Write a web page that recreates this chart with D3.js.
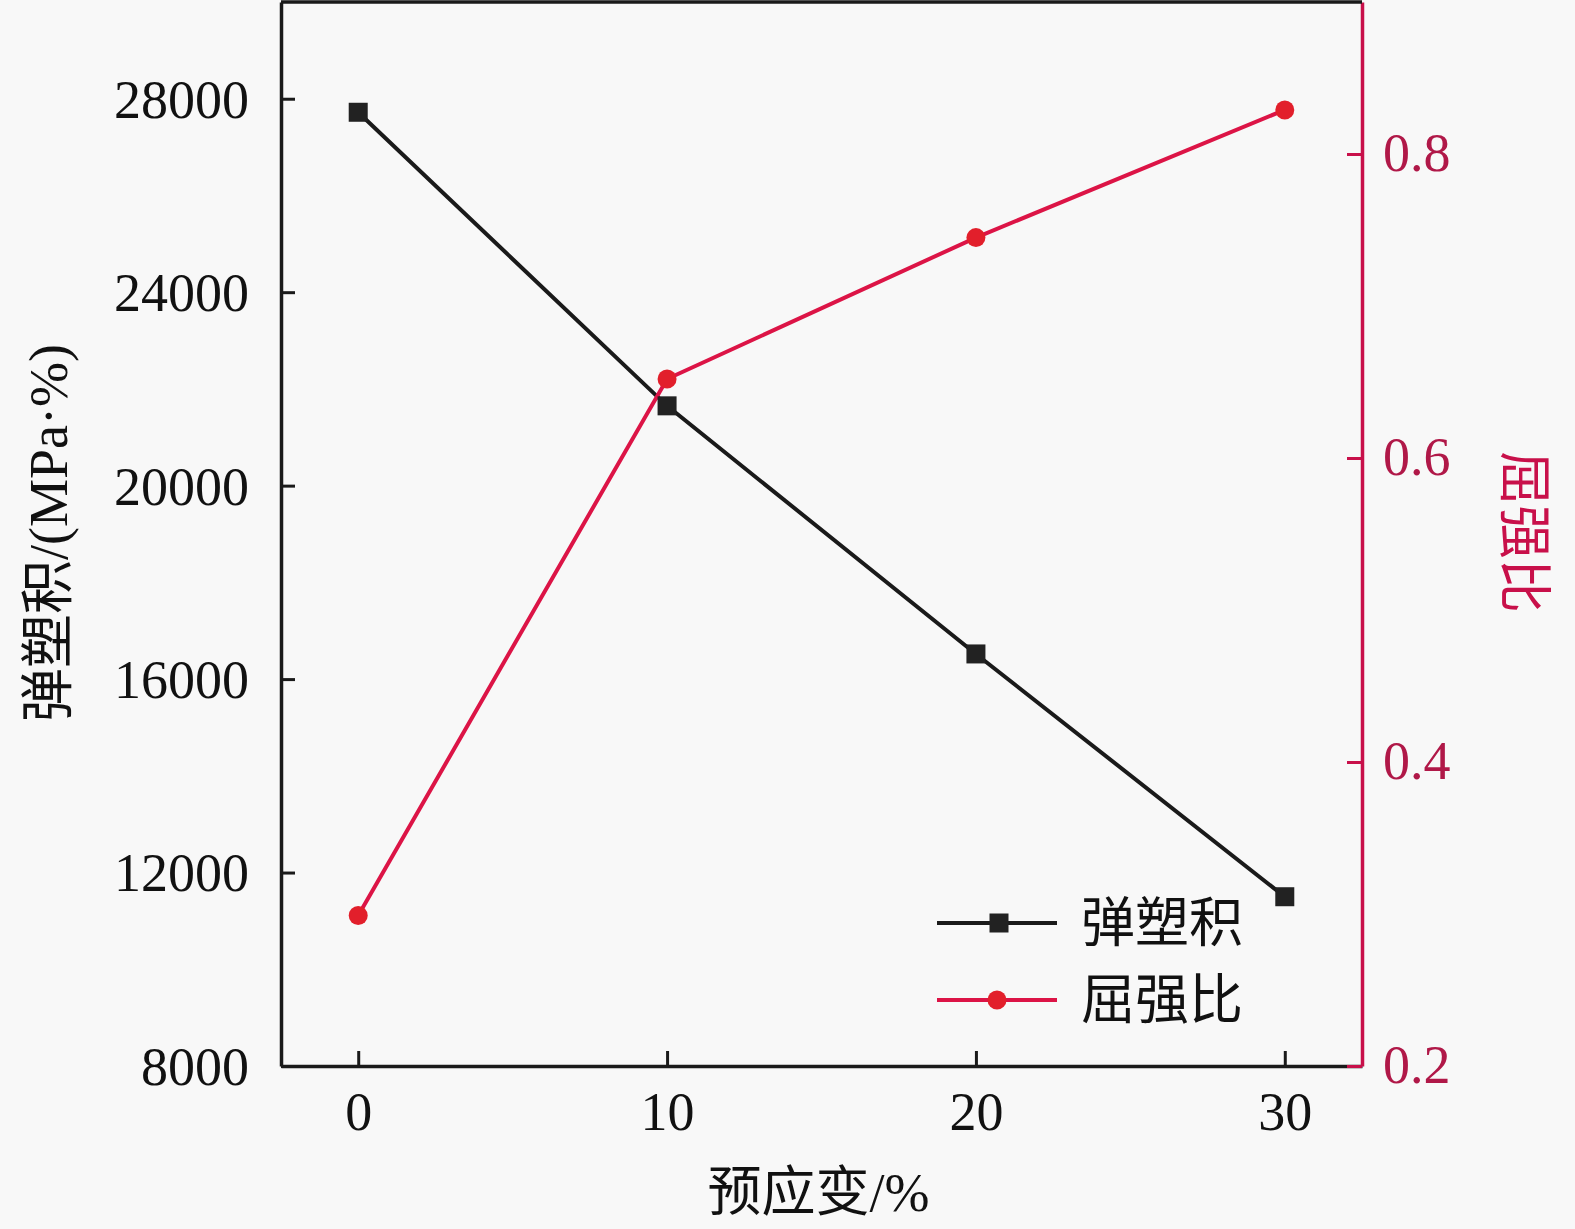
<!DOCTYPE html>
<html><head><meta charset="utf-8">
<script src="https://cdn.jsdelivr.net/npm/d3@7"></script>
<style>body{margin:0;background:#f8f8f8;} svg{display:block;}</style>
</head><body>
<script>
const strains = [0, 10, 20, 30];
const plasticity = [27720, 21650, 16520, 11500];
const yieldRatio = [0.299, 0.652, 0.745, 0.829];
const xTicks = [0, 10, 20, 30];
const yLeftTicks = [8000, 12000, 16000, 20000, 24000, 28000];
const yRightTicks = [0.2, 0.4, 0.6, 0.8];
const seriesNames = ["弹塑积", "屈强比"];
const xTitle = "预应变/%";
const yLeftTitle = "弹塑积/(MPa·%)";
const yRightTitle = "屈强比";

const W = 1575, H = 1229;
const L = 281, R = 1362, T = 2, B = 1066;
const black = "#1a1a1a", redAxis = "#c8104a", redLine = "#dc1446", redDot = "#e21f2b";
const serif = "'Liberation Serif','Times New Roman',serif";
const cjk = "'Liberation Serif','Noto Sans CJK SC',serif";

const svg = d3.select("body").append("svg").attr("width", W).attr("height", H)
  .style("background", "#f8f8f8");

const x = d3.scaleLinear().domain([-2.5, 32.5]).range([L, R]);
const yL = d3.scaleLinear().domain([8000, 30000]).range([B, T]);
const yR = d3.scaleLinear().domain([0.2, 0.9]).range([B, T]);

const gx = svg.append("g").attr("transform", `translate(0,${B})`)
  .call(d3.axisBottom(x).tickValues(xTicks).tickSizeInner(-15).tickSizeOuter(0).tickPadding(26).tickFormat(d3.format("d")));
const gl = svg.append("g").attr("transform", `translate(${L},0)`)
  .call(d3.axisLeft(yL).tickValues(yLeftTicks).tickSizeInner(-14).tickSizeOuter(0).tickPadding(32).tickFormat(d3.format("d")));
const gr = svg.append("g").attr("transform", `translate(${R},0)`)
  .call(d3.axisRight(yR).tickValues(yRightTicks).tickSizeInner(-15).tickSizeOuter(0).tickPadding(21).tickFormat(d3.format(".1f")));

[gx, gl].forEach(g => {
  g.select(".domain").attr("stroke", black).attr("stroke-width", 3.5);
  g.selectAll(".tick line").attr("stroke", black).attr("stroke-width", 3);
  g.selectAll(".tick text").attr("fill", "#111").style("font-family", serif).style("font-size", "54px");
});
gx.selectAll(".tick text").attr("dy", "0.71em");
gl.selectAll(".tick text").attr("dy", "0.34em");
gr.select(".domain").attr("stroke", redAxis).attr("stroke-width", 3.5);
gr.selectAll(".tick line").attr("stroke", redAxis).attr("stroke-width", 3);
gr.selectAll(".tick text").attr("fill", "#b01848").style("font-family", serif).style("font-size", "54px").attr("dy", "0.3em");

svg.append("line").attr("x1", L).attr("x2", R).attr("y1", yL(30000)).attr("y2", yL(30000))
  .attr("stroke", black).attr("stroke-width", 3.5);

const lineL = d3.line().x((d, i) => x(strains[i])).y(d => yL(d));
const lineR = d3.line().x((d, i) => x(strains[i])).y(d => yR(d));
svg.append("path").datum(plasticity).attr("d", lineL).attr("fill", "none").attr("stroke", black).attr("stroke-width", 4);
svg.append("path").datum(yieldRatio).attr("d", lineR).attr("fill", "none").attr("stroke", redLine).attr("stroke-width", 4);

const sq = 19;
svg.append("g").selectAll("rect").data(plasticity).join("rect")
  .attr("x", (d, i) => x(strains[i]) - sq / 2).attr("y", d => yL(d) - sq / 2)
  .attr("width", sq).attr("height", sq).attr("fill", "#222");
svg.append("g").selectAll("circle").data(yieldRatio).join("circle")
  .attr("cx", (d, i) => x(strains[i])).attr("cy", d => yR(d)).attr("r", 9.5).attr("fill", redDot);

const leg = svg.append("g");
const legY = [923, 1000];
leg.append("line").attr("x1", 937).attr("x2", 1057).attr("y1", legY[0]).attr("y2", legY[0]).attr("stroke", black).attr("stroke-width", 4);
leg.append("rect").attr("x", 999 - sq / 2).attr("y", legY[0] - sq / 2).attr("width", sq).attr("height", sq).attr("fill", "#222");
leg.append("line").attr("x1", 937).attr("x2", 1057).attr("y1", legY[1]).attr("y2", legY[1]).attr("stroke", redLine).attr("stroke-width", 4);
leg.append("circle").attr("cx", 997).attr("cy", legY[1]).attr("r", 9.5).attr("fill", redDot);
seriesNames.forEach((n, i) => {
  leg.append("text").attr("x", 1081).attr("y", legY[i]).attr("dy", "0.36em")
    .style("font-family", cjk).style("font-size", "54px").attr("fill", "#111").text(n);
});

svg.append("text").attr("x", (L + R) / 2 - 3).attr("y", 1192).attr("dy", "0.36em").attr("text-anchor", "middle")
  .style("font-family", cjk).style("font-size", "54px").attr("fill", "#111").text(xTitle);
svg.append("text").attr("transform", "translate(48,533) rotate(-90)").attr("dy", "0.36em").attr("text-anchor", "middle")
  .style("font-family", cjk).style("font-size", "54px").attr("fill", "#111").text(yLeftTitle);
svg.append("text").attr("transform", "translate(1524,532) rotate(90)").attr("dy", "0.36em").attr("text-anchor", "middle")
  .style("font-family", cjk).style("font-size", "54px").attr("fill", "#c8104a").text(yRightTitle);
</script>
</body></html>
